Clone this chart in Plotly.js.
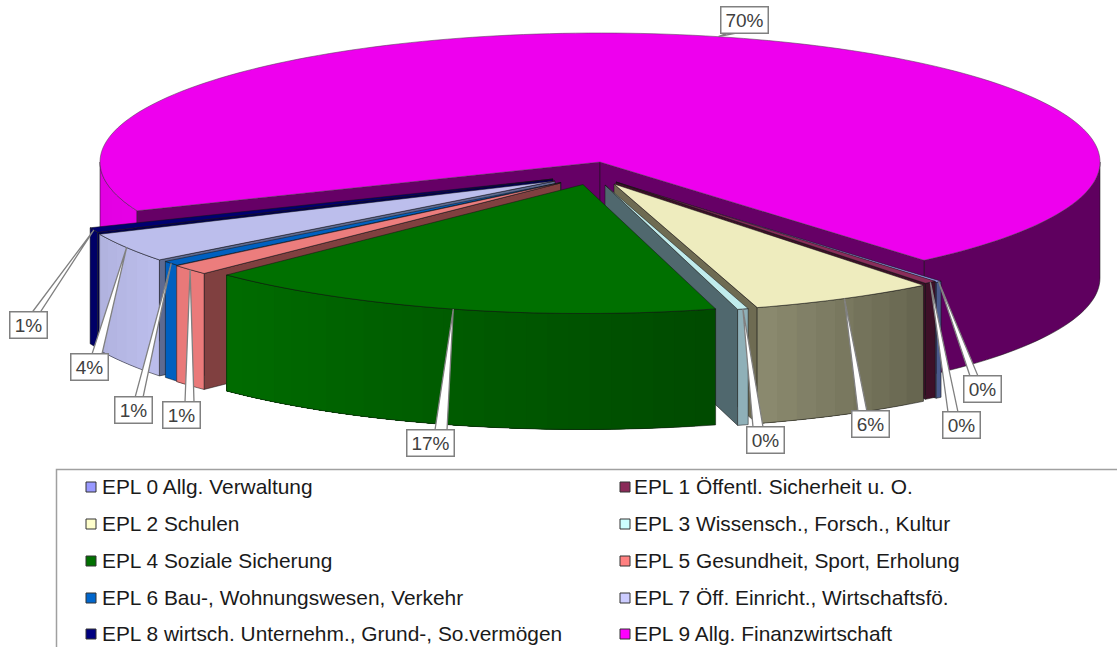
<!DOCTYPE html>
<html><head><meta charset="utf-8">
<script src="https://cdn.plot.ly/plotly-3.0.1.min.js"></script>
<style>html,body{margin:0;padding:0;background:#fff;overflow:hidden}</style>
</head><body><div id="chart" style="width:1117px;height:647px"></div>
<script>
// ---- data ----
const categories = ["EPL 0 Allg. Verwaltung","EPL 1 Öffentl. Sicherheit u. O.","EPL 2 Schulen","EPL 3 Wissensch., Forsch., Kultur","EPL 4 Soziale Sicherung","EPL 5 Gesundheit, Sport, Erholung","EPL 6 Bau-, Wohnungswesen, Verkehr","EPL 7 Öff. Einricht., Wirtschaftsfö.","EPL 8 wirtsch. Unternehm., Grund-, So.vermögen","EPL 9 Allg. Finanzwirtschaft"];
const shares = [0.2,0.4,6.0,0.35,16.9,1.3,0.6,3.7,0.6,69.95];

// ---- styling / pie projection ----
const legendColors = ["#9999ff","#8a2a58","#ffffcc","#ccffff","#007000","#ff8080","#0066cc","#ccccff","#000080","#ff00ff"];
const topColors   = ["#8f9be8","#8a2d5a","#eeecbe","#c0ecec","#007000","#ec7d7d","#0060c0","#bcbeec","#000070","#ee00ee"];
const wallLeft    = ["#4a5a8c","#3d1028","#8c8b70","#8fb0b8","#006c00","#e87878","#0060c0","#b0b2de","#000066","#5f005f"];
const wallRight   = ["#4a5a8c","#3d1028","#65644e","#8fb0b8","#004a00","#ea7a7a","#0060c0","#bcbeec","#000066","#5f005f"];
const faceColors  = ["#4a5a8c","#3d1028","#6e6b52","#50686e","#004a00","#804040","#1c4a80","#5e6a90","#000050","#660066"];
const explodeX = [17,16,14,5,-17,-39.5,-39,-45,-47,0];
const explodeY = [21,20,22,23,22.5,21,20.5,19,17,0];
const CX=600, CY=162, RX=500, RY=129, DEPTH=116, START=49.6;
const boxCenterX = [982,961,870,765,430,181,133,89,28,744];
const boxCenterY = [388.5,424.5,424,439.5,442.5,414.5,410,366.5,325,20];
const boxBaseL   = [970,948,858,753,435,185,135,92,32,729];
const boxBaseR   = [978,958,867,763,447,194,143,102,40,739];
const legendRowY = [489,526,563,600,636];
const legendMarkX = [91,625], legendTextX=[102,634];

const rad=d=>d*Math.PI/180;
const hex=c=>[1,3,5].map(i=>parseInt(c.substr(i,2),16));
const mix=(a,b,f)=>{const A=hex(a),B=hex(b);return 'rgb('+A.map((v,i)=>Math.round(v+(B[i]-v)*f)).join(',')+')';};
const traces=[];
function poly(xs,ys,fill,line,lw){
  traces.push({type:'scatter',mode:'lines',x:xs.concat(xs[0]),y:ys.concat(ys[0]),fill:'toself',fillcolor:fill,
    line:{color:line||fill,width:lw===undefined?0.8:lw,simplify:false},hoverinfo:'skip',showlegend:false});
}
function pline(xs,ys,color,w){
  traces.push({type:'scatter',mode:'lines',x:xs,y:ys,line:{color:color,width:w,simplify:false},hoverinfo:'skip',showlegend:false});
}
const EDGE='rgba(20,20,20,0.75)';
const px=(c,t)=>c.x+RX*Math.cos(rad(t));
const py=(c,t)=>c.y+RY*Math.sin(rad(t));
function arcPts(c,a,b,dy){const n=Math.max(2,Math.ceil(Math.abs(b-a)/1.5));const X=[],Y=[];for(let i=0;i<=n;i++){const t=a+(b-a)*i/n;X.push(px(c,t));Y.push(py(c,t)+(dy||0));}return [X,Y];}
// a = angle at the right end of the wall, b = at the left end; gradient runs right colour -> left colour
function wall(c,a,b,colRight,colLeft){
  const n=colRight===colLeft?1:Math.max(1,Math.ceil(Math.abs(b-a)/2.5));
  for(let i=0;i<n;i++){
    const s=a+(b-a)*i/n;              // every strip reaches the far end, the next one paints over it: no seams
    const [X1,Y1]=arcPts(c,s,b,0),[X2,Y2]=arcPts(c,b,s,DEPTH);
    const col=mix(colRight,colLeft,(i+.5)/n);
    poly(X1.concat(X2),Y1.concat(Y2),col,'rgba(0,0,0,0)',0);
  }
  const [X1,Y1]=arcPts(c,a,b,0),[X2,Y2]=arcPts(c,b,a,DEPTH);
  pline(X1.concat(X2,[X1[0]]),Y1.concat(Y2,[Y1[0]]),EDGE,0.7);
}
function face(c,t,col){
  const ex=px(c,t),ey=py(c,t);
  poly([c.x,ex,ex,c.x],[c.y,ey,ey+DEPTH,c.y+DEPTH],col,EDGE,0.7);
}
function topFace(c,a,b,col,line){
  const [X,Y]=arcPts(c,a,b,0);
  poly([c.x].concat(X),[c.y].concat(Y),col,line||EDGE,0.7);
}
// slice angular extents (screen-clockwise) from the shares
const spans=[];let acc=START;
shares.forEach(v=>{spans.push([acc,acc+v*3.6]);acc+=v*3.6;});
const centers=shares.map((_,i)=>({x:CX+explodeX[i],y:CY+explodeY[i]}));

// big slice (index 9): only the two front parts of its rim show
(function(){
  const i=9,c=centers[i],a=spans[i][0],b=spans[i][1];
  wall(c,0,b-360,wallRight[i],wallLeft[i]);
  wall(c,a,180,"#e600e6","#e000e0");
  face(c,a,faceColors[i]);face(c,b,faceColors[i]);
  topFace(c,a,b,topColors[i],'rgba(90,60,90,0.8)');
})();
// other slices back to front
[0,1,2,3,8,7,6,5,4].forEach(i=>{
  const c=centers[i],a=spans[i][0],b=spans[i][1];
  if(b<90) face(c,b,faceColors[i]);
  if(a>90) face(c,a,faceColors[i]);
  wall(c,a,b,wallRight[i],wallLeft[i]);
  topFace(c,a,b,topColors[i]);
});
// data label leaders
const annotations=[];
shares.forEach((v,i)=>{
  const c=centers[i],m=(spans[i][0]+spans[i][1])/2;
  const label=Math.round(v)+'%';
  const w=label.length>2?46:36,h=25;
  const baseY=boxCenterY[i]+(i===9?h/2:-h/2);
  poly([px(c,m),boxBaseL[i],boxBaseR[i]],[py(c,m),baseY,baseY],'#ffffff','#808080',1.3);
  annotations.push({x:boxCenterX[i],y:boxCenterY[i],xref:'x',yref:'y',text:label,showarrow:false,width:w,height:h,
    xanchor:'center',yanchor:'middle',align:'center',valign:'middle',bgcolor:'#ffffff',bordercolor:'#808080',borderwidth:1.5,borderpad:0,
    font:{family:'"Liberation Sans",Arial,sans-serif',size:19,color:'#404040'}});
});
// legend, row by row in two columns
categories.forEach((name,i)=>{
  const col=i%2,row=(i-col)/2;
  traces.push({type:'scatter',mode:'markers',x:[legendMarkX[col]],y:[legendRowY[row]-2],
    marker:{symbol:'square',size:10,color:legendColors[i],line:{color:'#333',width:1}},hoverinfo:'skip',showlegend:false});
  traces.push({type:'scatter',mode:'text',x:[legendTextX[col]],y:[legendRowY[row]],text:[name],textposition:'middle right',
    textfont:{family:'"Liberation Sans",Arial,sans-serif',size:20.9,color:'#1a1a1a'},hoverinfo:'skip',showlegend:false});
});
const layout={width:1117,height:647,margin:{l:0,r:0,t:0,b:0},paper_bgcolor:'#fff',plot_bgcolor:'#fff',showlegend:false,
  xaxis:{range:[0,1117],visible:false,fixedrange:true},
  yaxis:{range:[647,0],visible:false,fixedrange:true},
  annotations:annotations,
  shapes:[{type:'rect',xref:'x',yref:'y',x0:56.5,x1:1140,y0:469.5,y1:680,line:{color:'#a0a0a0',width:1.5},fillcolor:'rgba(0,0,0,0)',layer:'below'}]};
Plotly.newPlot('chart',traces,layout,{displayModeBar:false,staticPlot:true});
</script></body></html>
